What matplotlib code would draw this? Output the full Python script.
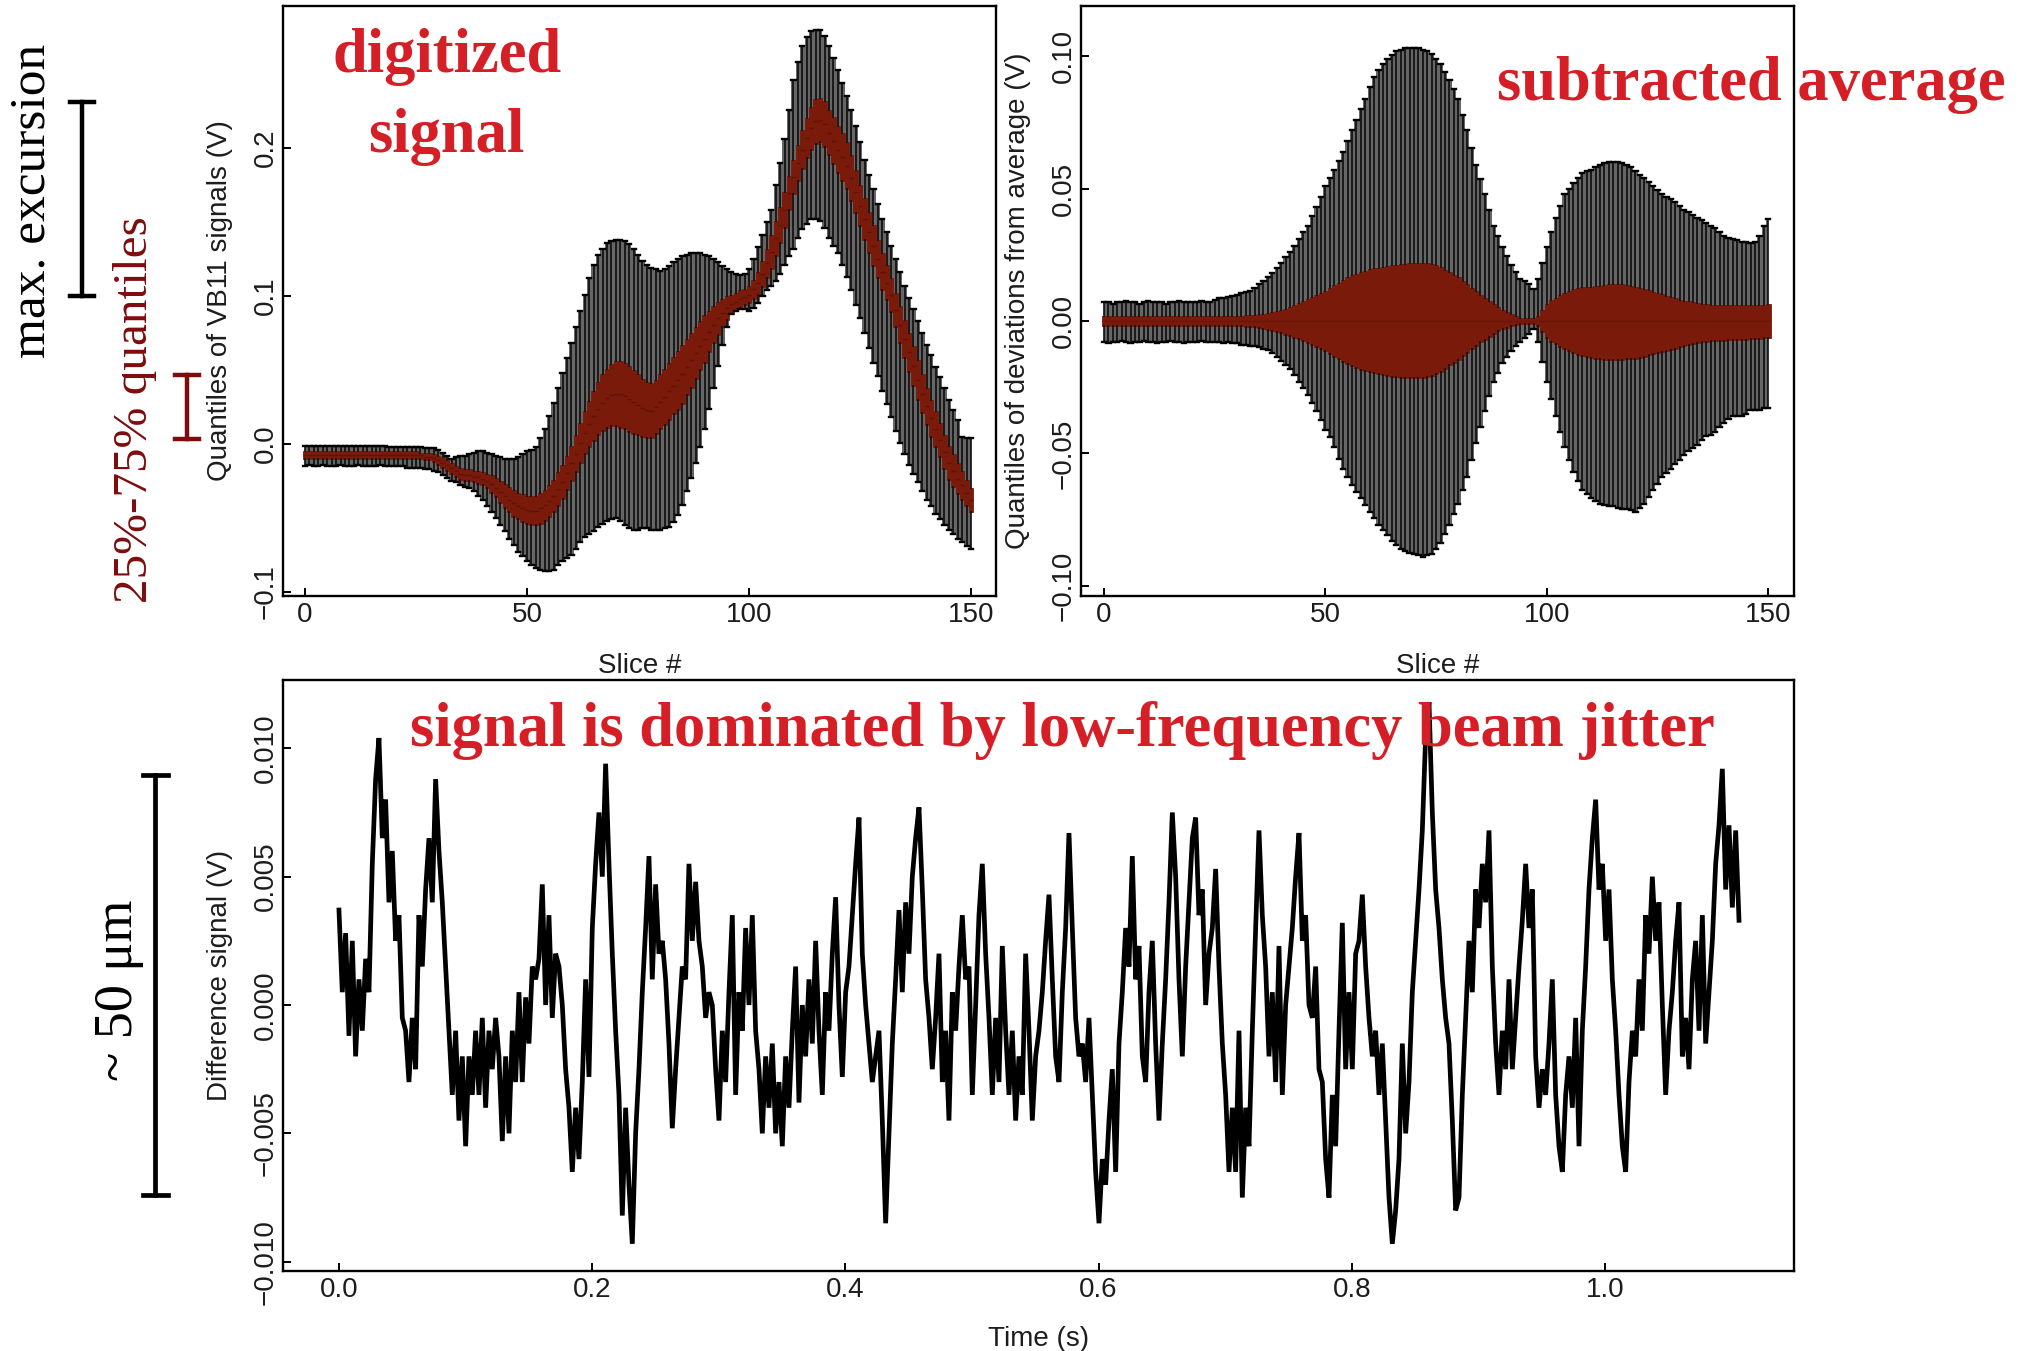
import numpy as np
import matplotlib
matplotlib.use("Agg")
import matplotlib.pyplot as plt
from matplotlib.lines import Line2D

# ---- digitized signal: per-slice quantiles of VB11 signals (V) ----
slices = np.arange(0, 151)

sig_hi = [
    -0.001, -0.001, -0.001, -0.001, -0.001, -0.001, -0.001, -0.001, -0.001, -0.001,
    -0.001, -0.001, -0.001, -0.001, -0.001, -0.001, -0.001, -0.001, -0.001, -0.002,
    -0.002, -0.002, -0.002, -0.002, -0.002, -0.002, -0.002, -0.003, -0.003, -0.003,
    -0.004, -0.006, -0.008, -0.010, -0.009, -0.008, -0.008, -0.007, -0.006, -0.005,
    -0.005, -0.006, -0.007, -0.008, -0.009, -0.010, -0.010, -0.010, -0.009, -0.007,
    -0.005, -0.004, -0.002, 0.004, 0.010, 0.019, 0.028, 0.038, 0.048, 0.058,
    0.068, 0.079, 0.090, 0.101, 0.112, 0.121, 0.128, 0.132, 0.136, 0.137,
    0.138, 0.138, 0.137, 0.135, 0.132, 0.128, 0.124, 0.121, 0.119, 0.118,
    0.117, 0.118, 0.120, 0.123, 0.125, 0.127, 0.128, 0.129, 0.129, 0.129,
    0.128, 0.127, 0.125, 0.123, 0.120, 0.118, 0.116, 0.115, 0.114, 0.115,
    0.118, 0.125, 0.133, 0.141, 0.150, 0.158, 0.175, 0.190, 0.206, 0.226,
    0.246, 0.258, 0.269, 0.275, 0.279, 0.280, 0.280, 0.276, 0.269, 0.261,
    0.253, 0.244, 0.235, 0.226, 0.215, 0.204, 0.192, 0.182, 0.172, 0.162,
    0.152, 0.143, 0.134, 0.125, 0.116, 0.107, 0.099, 0.091, 0.083, 0.075,
    0.067, 0.060, 0.052, 0.045, 0.038, 0.030, 0.023, 0.016, 0.005, 0.004,
    0.004,
]
sig_q3 = [
    -0.005, -0.005, -0.005, -0.005, -0.005, -0.005, -0.005, -0.005, -0.005, -0.005,
    -0.005, -0.005, -0.005, -0.005, -0.005, -0.005, -0.005, -0.005, -0.005, -0.005,
    -0.005, -0.005, -0.005, -0.005, -0.005, -0.005, -0.006, -0.006, -0.006, -0.007,
    -0.008, -0.009, -0.011, -0.013, -0.015, -0.016, -0.017, -0.017, -0.018, -0.018,
    -0.019, -0.020, -0.021, -0.023, -0.025, -0.027, -0.029, -0.031, -0.033, -0.034,
    -0.035, -0.035, -0.035, -0.033, -0.031, -0.028, -0.024, -0.019, -0.014, -0.008,
    -0.001, 0.006, 0.014, 0.022, 0.029, 0.036, 0.042, 0.047, 0.051, 0.054,
    0.056, 0.056, 0.055, 0.053, 0.050, 0.047, 0.044, 0.042, 0.041, 0.043,
    0.047, 0.051, 0.055, 0.059, 0.063, 0.067, 0.071, 0.075, 0.079, 0.083,
    0.087, 0.090, 0.093, 0.096, 0.098, 0.100, 0.101, 0.102, 0.104, 0.105,
    0.107, 0.111, 0.116, 0.124, 0.132, 0.141, 0.151, 0.160, 0.170, 0.181,
    0.192, 0.202, 0.212, 0.220, 0.228, 0.233, 0.234, 0.232, 0.226, 0.221,
    0.215, 0.210, 0.204, 0.195, 0.185, 0.175, 0.166, 0.157, 0.148, 0.138,
    0.129, 0.121, 0.112, 0.102, 0.093, 0.084, 0.075, 0.066, 0.057, 0.047,
    0.038, 0.030, 0.022, 0.014, 0.006, -0.001, -0.007, -0.013, -0.018, -0.024,
    -0.030,
]
sig_med = [
    -0.0075, -0.0075, -0.0075, -0.0075, -0.0075, -0.0075, -0.0075, -0.0075, -0.0075, -0.0075,
    -0.0075, -0.0075, -0.0075, -0.0075, -0.0075, -0.0075, -0.0075, -0.0075, -0.0075, -0.0075,
    -0.0075, -0.0075, -0.0075, -0.0075, -0.0075, -0.0075, -0.0075, -0.0085, -0.0085, -0.0095,
    -0.011, -0.0125, -0.0145, -0.0165, -0.0185, -0.020, -0.021, -0.021, -0.022, -0.0225,
    -0.0235, -0.025, -0.027, -0.0295, -0.0325, -0.035, -0.0375, -0.040, -0.042, -0.0435,
    -0.0445, -0.045, -0.045, -0.0435, -0.0415, -0.0385, -0.035, -0.0305, -0.0255, -0.0195,
    -0.013, -0.0065, 0.0005, 0.0075, 0.0135, 0.019, 0.024, 0.028, 0.031, 0.033,
    0.034, 0.0335, 0.0325, 0.0305, 0.0285, 0.0265, 0.0245, 0.023, 0.0225, 0.025,
    0.0285, 0.032, 0.0355, 0.0395, 0.043, 0.047, 0.052, 0.0565, 0.0615, 0.0665,
    0.071, 0.076, 0.0805, 0.085, 0.0885, 0.092, 0.0945, 0.096, 0.098, 0.0995,
    0.101, 0.1045, 0.1085, 0.115, 0.122, 0.1295, 0.139, 0.148, 0.158, 0.1695,
    0.1805, 0.190, 0.199, 0.2065, 0.2135, 0.218, 0.219, 0.2165, 0.2105, 0.205,
    0.199, 0.194, 0.188, 0.1795, 0.1705, 0.161, 0.152, 0.143, 0.134, 0.125,
    0.1165, 0.109, 0.1005, 0.0905, 0.0805, 0.071, 0.062, 0.0525, 0.0435, 0.034,
    0.0255, 0.0175, 0.010, 0.0025, -0.0055, -0.0125, -0.018, -0.0235, -0.028, -0.033,
    -0.038,
]
sig_q1 = [
    -0.010, -0.010, -0.010, -0.010, -0.010, -0.010, -0.010, -0.010, -0.010, -0.010,
    -0.010, -0.010, -0.010, -0.010, -0.010, -0.010, -0.010, -0.010, -0.010, -0.010,
    -0.010, -0.010, -0.010, -0.010, -0.010, -0.010, -0.010, -0.011, -0.011, -0.012,
    -0.014, -0.016, -0.018, -0.020, -0.022, -0.024, -0.025, -0.025, -0.026, -0.027,
    -0.028, -0.030, -0.033, -0.036, -0.040, -0.043, -0.046, -0.049, -0.051, -0.053,
    -0.054, -0.055, -0.055, -0.054, -0.052, -0.049, -0.046, -0.042, -0.037, -0.031,
    -0.025, -0.019, -0.013, -0.007, -0.002, 0.002, 0.006, 0.009, 0.011, 0.012,
    0.012, 0.011, 0.010, 0.008, 0.007, 0.006, 0.005, 0.004, 0.004, 0.007,
    0.010, 0.013, 0.016, 0.020, 0.023, 0.027, 0.033, 0.038, 0.044, 0.050,
    0.055, 0.062, 0.068, 0.074, 0.079, 0.084, 0.088, 0.090, 0.092, 0.094,
    0.095, 0.098, 0.101, 0.106, 0.112, 0.118, 0.127, 0.136, 0.146, 0.158,
    0.169, 0.178, 0.186, 0.193, 0.199, 0.203, 0.204, 0.201, 0.195, 0.189,
    0.183, 0.178, 0.172, 0.164, 0.156, 0.147, 0.138, 0.129, 0.120, 0.112,
    0.104, 0.097, 0.089, 0.079, 0.068, 0.058, 0.049, 0.039, 0.030, 0.021,
    0.013, 0.005, -0.002, -0.009, -0.017, -0.024, -0.029, -0.034, -0.038, -0.042,
    -0.046,
]
sig_lo = [
    -0.015, -0.014, -0.015, -0.015, -0.014, -0.015, -0.015, -0.015, -0.014, -0.015,
    -0.015, -0.015, -0.014, -0.015, -0.015, -0.015, -0.015, -0.014, -0.015, -0.015,
    -0.015, -0.015, -0.015, -0.016, -0.016, -0.016, -0.016, -0.017, -0.017, -0.018,
    -0.019, -0.021, -0.023, -0.025, -0.026, -0.028, -0.029, -0.030, -0.032, -0.035,
    -0.038, -0.042, -0.046, -0.050, -0.055, -0.059, -0.064, -0.068, -0.073, -0.076,
    -0.079, -0.082, -0.084, -0.085, -0.086, -0.086, -0.085, -0.082, -0.079, -0.077,
    -0.075, -0.071, -0.066, -0.063, -0.061, -0.059, -0.056, -0.054, -0.052, -0.051,
    -0.050, -0.052, -0.055, -0.057, -0.058, -0.058, -0.057, -0.057, -0.058, -0.058,
    -0.058, -0.057, -0.056, -0.053, -0.048, -0.041, -0.032, -0.023, -0.013, -0.002,
    0.010, 0.024, 0.038, 0.053, 0.067, 0.079, 0.088, 0.090, 0.091, 0.091,
    0.090, 0.092, 0.095, 0.100, 0.104, 0.107, 0.110, 0.115, 0.121, 0.127,
    0.132, 0.139, 0.145, 0.149, 0.152, 0.152, 0.151, 0.146, 0.139, 0.134,
    0.129, 0.121, 0.113, 0.104, 0.094, 0.085, 0.075, 0.065, 0.055, 0.046,
    0.036, 0.027, 0.018, 0.009, 0.001, -0.007, -0.014, -0.020, -0.026, -0.032,
    -0.038, -0.042, -0.047, -0.051, -0.055, -0.058, -0.061, -0.064, -0.066, -0.069,
    -0.071,
]

# ---- deviations from the average, per slice (V) ----
dev_hi = [
    0.007, 0.007, 0.0065, 0.007, 0.007, 0.0075, 0.007, 0.007, 0.0065, 0.007,
    0.0075, 0.007, 0.007, 0.007, 0.0065, 0.007, 0.007, 0.0075, 0.007, 0.007,
    0.007, 0.007, 0.0075, 0.007, 0.007, 0.008, 0.0085, 0.0085, 0.009, 0.0095,
    0.010, 0.0105, 0.011, 0.0115, 0.0125, 0.014, 0.015, 0.0165, 0.018, 0.020,
    0.022, 0.024, 0.026, 0.0285, 0.031, 0.0335, 0.036, 0.0395, 0.043, 0.047,
    0.051, 0.054, 0.057, 0.0605, 0.064, 0.068, 0.072, 0.076, 0.080, 0.084,
    0.0885, 0.092, 0.095, 0.097, 0.099, 0.1005, 0.102, 0.1025, 0.103, 0.103,
    0.103, 0.103, 0.1025, 0.102, 0.101, 0.099, 0.097, 0.094, 0.091, 0.0875,
    0.084, 0.078, 0.072, 0.0655, 0.059, 0.0535, 0.048, 0.042, 0.036, 0.032,
    0.028, 0.0245, 0.021, 0.0185, 0.016, 0.015, 0.014, 0.012, 0.016, 0.022,
    0.028, 0.0335, 0.039, 0.0435, 0.048, 0.050, 0.052, 0.054, 0.056, 0.0565,
    0.057, 0.058, 0.059, 0.0595, 0.060, 0.060, 0.060, 0.0595, 0.059, 0.058,
    0.0565, 0.055, 0.054, 0.0525, 0.051, 0.0495, 0.048, 0.047, 0.046, 0.045,
    0.0435, 0.042, 0.041, 0.040, 0.039, 0.038, 0.037, 0.036, 0.035, 0.0335,
    0.032, 0.0315, 0.031, 0.0305, 0.030, 0.030, 0.0295, 0.030, 0.032, 0.036,
    0.0385,
]
dev_q3 = [0.002] * 30 + [
    0.002, 0.002, 0.0022, 0.0023, 0.0024, 0.0025, 0.0027, 0.003, 0.0033, 0.0036,
    0.004, 0.0046, 0.0053, 0.006, 0.0068, 0.0075, 0.0083, 0.0091, 0.0099, 0.0107,
    0.0115, 0.0125, 0.0135, 0.0145, 0.0155, 0.0165, 0.0172, 0.0179, 0.0185, 0.019,
    0.0195, 0.0199, 0.0202, 0.0205, 0.0208, 0.021, 0.0213, 0.0215, 0.0217, 0.0219,
    0.022, 0.022, 0.022, 0.022, 0.0215, 0.021, 0.0203, 0.0194, 0.0184, 0.0175,
    0.0165, 0.0152, 0.0139, 0.0126, 0.0113, 0.010, 0.0088, 0.0076, 0.0064, 0.0052,
    0.004, 0.0033, 0.0025, 0.0018, 0.0013, 0.001, 0.001, 0.001, 0.002, 0.004,
    0.0066, 0.0078, 0.0088, 0.0098, 0.0107, 0.0115, 0.012, 0.0124, 0.0127, 0.0129,
    0.013, 0.0132, 0.0134, 0.0136, 0.0138, 0.014, 0.014, 0.0138, 0.0135, 0.0133,
    0.013, 0.0125, 0.012, 0.0116, 0.0111, 0.0107, 0.0102, 0.0096, 0.009, 0.0085,
    0.008, 0.0077, 0.0074, 0.0071, 0.0068, 0.0066, 0.0064, 0.0062, 0.0061, 0.006,
    0.006, 0.006, 0.006, 0.006, 0.006, 0.006, 0.006, 0.006, 0.006, 0.006,
    0.0065,
]
dev_med = [0.0] * 151
dev_q1 = [-0.002] * 30 + [
    -0.002, -0.002, -0.0022, -0.0023, -0.0024, -0.0026, -0.003, -0.0034, -0.0038, -0.0042,
    -0.0046, -0.0052, -0.0058, -0.0063, -0.0068, -0.0074, -0.0082, -0.009, -0.0098, -0.0106,
    -0.0115, -0.0125, -0.0135, -0.0145, -0.0155, -0.0164, -0.0171, -0.0178, -0.0184, -0.0189,
    -0.0193, -0.0197, -0.020, -0.0204, -0.0207, -0.021, -0.0212, -0.0214, -0.0215, -0.0216,
    -0.0216, -0.0216, -0.0214, -0.0211, -0.0207, -0.020, -0.0191, -0.018, -0.0168, -0.0158,
    -0.0148, -0.0134, -0.0121, -0.0107, -0.0093, -0.008, -0.007, -0.006, -0.0048, -0.0038,
    -0.003, -0.0025, -0.002, -0.0015, -0.0012, -0.001, -0.001, -0.001, -0.002, -0.004,
    -0.0066, -0.0078, -0.0088, -0.0098, -0.0107, -0.0115, -0.012, -0.0127, -0.0133, -0.0137,
    -0.014, -0.0143, -0.0145, -0.0147, -0.0148, -0.0148, -0.0147, -0.0146, -0.0145, -0.0144,
    -0.0144, -0.014, -0.0135, -0.013, -0.0125, -0.012, -0.0116, -0.0112, -0.0108, -0.0104,
    -0.010, -0.0096, -0.0092, -0.0088, -0.0084, -0.008, -0.0078, -0.0077, -0.0076, -0.0075,
    -0.0074, -0.0073, -0.0072, -0.0071, -0.007, -0.007, -0.0069, -0.0068, -0.0067, -0.0066,
    -0.0066,
]
dev_lo = [
    -0.008, -0.0085, -0.008, -0.008, -0.0075, -0.008, -0.0085, -0.008, -0.008, -0.0075,
    -0.008, -0.008, -0.0085, -0.008, -0.008, -0.0075, -0.008, -0.008, -0.0085, -0.008,
    -0.008, -0.008, -0.0075, -0.008, -0.008, -0.008, -0.008, -0.0085, -0.008, -0.0085,
    -0.0085, -0.009, -0.009, -0.0095, -0.0095, -0.010, -0.0105, -0.011, -0.012, -0.0135,
    -0.015, -0.0165, -0.018, -0.0205, -0.023, -0.0255, -0.028, -0.031, -0.034, -0.0375,
    -0.041, -0.044, -0.0475, -0.052, -0.056, -0.059, -0.062, -0.0645, -0.067, -0.0695,
    -0.072, -0.0745, -0.077, -0.079, -0.081, -0.083, -0.0845, -0.086, -0.087, -0.0875,
    -0.088, -0.0885, -0.089, -0.0885, -0.088, -0.086, -0.084, -0.0805, -0.077, -0.073,
    -0.069, -0.064, -0.059, -0.0525, -0.046, -0.040, -0.034, -0.0285, -0.023, -0.0195,
    -0.016, -0.0135, -0.0115, -0.0095, -0.008, -0.0065, -0.005, -0.003, -0.008, -0.0155,
    -0.023, -0.0295, -0.036, -0.042, -0.0475, -0.0525, -0.057, -0.0605, -0.064, -0.0655,
    -0.067, -0.068, -0.069, -0.0695, -0.070, -0.070, -0.0705, -0.071, -0.071, -0.0715,
    -0.072, -0.0705, -0.069, -0.0665, -0.064, -0.0615, -0.059, -0.0575, -0.056, -0.054,
    -0.0525, -0.0505, -0.049, -0.048, -0.047, -0.045, -0.0435, -0.043, -0.042, -0.040,
    -0.0385, -0.037, -0.036, -0.036, -0.036, -0.035, -0.0335, -0.0335, -0.0335, -0.033,
    -0.033,
]

# ---- difference signal vs time (mV), one sample every sample_dt seconds ----
sample_dt = 0.002633
diff_mv = [
    3.7, 0.5, 2.8, -1.2, 2.5, -2.0, 1.0, -1.0, 1.8, 0.5,
    5.5, 8.8, 10.4, 6.5, 8.0, 4.0, 6.0, 2.5, 3.5, -0.5,
    -1.0, -3.0, -0.5, -2.5, 3.5, 1.5, 4.5, 6.5, 4.0, 8.8,
    6.0, 4.0, 1.5, -1.0, -3.5, -1.0, -4.5, -2.0, -5.5, -2.0,
    -3.5, -1.0, -3.5, -0.5, -4.0, -1.0, -2.5, -0.5, -2.0, -5.3,
    -2.0, -5.0, -1.0, -3.0, 0.5, -3.0, 0.3, -1.5, 1.5, 1.0,
    1.8, 4.7, 0.0, 3.5, -0.5, 2.0, 1.5, 0.0, -2.5, -4.0,
    -6.5, -4.0, -6.0, -3.0, 1.0, -2.8, 3.0, 5.5, 7.5, 5.0,
    9.4, 5.5, 2.0, -1.0, -3.5, -8.2, -4.0, -7.0, -9.3, -5.0,
    -2.5, 0.5, 3.0, 5.8, 1.0, 4.7, 2.0, 2.5, 1.0, -1.5,
    -4.8, -2.5, -0.5, 1.5, 1.0, 5.5, 2.5, 4.8, 2.5, 1.5,
    -0.5, 0.5,
    0.0, -2.5, -4.5, -1.0, -3.0, 0.5, 3.5, -3.5, 0.5, -1.0,
    3.0, 0.0, 3.5, -1.0, -2.5, -5.0, -2.0, -4.0, -1.5, -5.0,
    -3.0, -5.5, -2.0, -4.0, -1.0, 1.5, -3.8, 0.0, -2.0, 1.0,
    -1.5, 2.5, -1.0, -3.5, 0.5, -1.0, 2.0, 4.2, 0.0, -2.8,
    0.5, 1.5, 3.5, 5.5, 7.3, 2.0, 0.0, -1.5, -3.0, -2.0,
    -1.0, -4.5, -8.5, -5.0, -1.5, 1.0, 3.7, 0.5, 4.0, 2.0,
    5.0, 6.5, 7.7, 4.5, 1.0, -0.5, -2.5, -0.5, 2.0, -3.0,
    -1.0, -4.5, 0.5, -1.0, 1.5, 3.5, 1.0, 1.5, -3.5, 0.0,
    3.5, 5.5, 2.0, -0.5, -3.5, -0.5, -3.0, 2.3, -1.0, -3.5,
    -1.0, -4.5, -2.0, -3.5, 2.0, -1.0, -4.5, -2.0, -1.0, 0.5,
    2.5, 4.3, 1.0, -2.0, -3.0, 0.5, 3.0, 6.7, 3.0, -0.5,
    -2.0,
    -1.5, -3.0, -0.5, -3.5, -6.5, -8.5, -6.0, -7.0, -4.5, -2.5,
    -6.5, -1.5, 0.5, 3.0, 1.5, 5.8, 1.0, 2.3, -2.0, -3.0,
    0.5, 2.5, -1.5, -4.5, -1.5, 1.0, 4.0, 7.5, 5.0, 1.0,
    -2.0, 1.5, 4.0, 6.5, 7.3, 3.5, 4.5, 0.0, 2.0, 3.0,
    5.3, 1.5, -1.5, -3.5, -6.5, -4.0, -6.5, -1.0, -7.5, -4.0,
    -5.5, -1.0, 3.0, 6.8, 3.5, 1.5, -2.0, 0.5, -3.0, 2.3,
    -3.5, 0.0, 1.5, 3.0, 5.0, 6.7, 2.5, 3.5, 0.0, -0.5,
    1.5, -2.5, -3.0, -6.0, -7.5, -3.5, -5.5, -1.0, 3.2, -2.5,
    0.5, -2.5, 2.0, 2.5, 4.3, 1.5, -0.5, -2.0, -1.0, -3.5,
    -1.5, -4.5, -7.5, -9.3, -8.0, -6.0, -1.5, -5.0, -3.0, 0.5,
    2.5, 4.5, 6.8, 10.5, 11.8, 7.5, 4.5, 3.0, 1.0, -0.5,
    -1.5,
    -4.5, -8.0, -7.5, -3.5, -0.5, 2.5, 0.5, 4.5, 3.0, 5.5,
    4.0, 6.8, 1.5, -1.5, -3.5, -1.0, -2.5, 1.0, -2.5, -0.5,
    1.5, 3.3, 5.5, 3.0, 4.5, -2.0, -4.0, -2.5, -3.5, -1.5,
    1.0, -3.5, -5.5, -6.5, -3.5, -2.0, -4.0, -0.5, -5.5, -1.0,
    1.5, 4.5, 6.5, 8.0, 4.5, 5.5, 2.5, 4.5, 1.0, -1.0,
    -3.5, -5.5, -6.5, -3.0, -1.0, -2.0, 1.0, -1.0, 3.5, 2.0,
    5.0, 2.5, 4.0, 0.0, -3.5, -1.0, 0.5, 2.5, 4.0, -2.0,
    -0.5, -2.5, 1.0, 2.5, -1.0, 3.5, -1.5, 0.5, 2.5, 5.5,
    7.0, 9.2, 4.5, 7.0, 3.8, 6.8, 3.3,
]

BOX_RED = "#7a1a0a"
ANNOT_RED = "#d51e26"
DARK_RED = "#7f0c0c"
TICK_FONT = "Liberation Sans"
SERIF = "Liberation Serif"

W, H = 2020, 1351
fig = plt.figure(figsize=(W / 100, H / 100), dpi=100)


def box(x0, y0, x1, y1):
    # pixel box (top-left origin) -> figure fraction rect
    return [x0 / W, 1 - y1 / H, (x1 - x0) / W, (y1 - y0) / H]


def fx(x):
    return x / W


def fy(y):
    return 1 - y / H


def style(ax):
    for s in ax.spines.values():
        s.set_linewidth(1.7)
        s.set_color("black")
    ax.tick_params(direction="in", length=6, width=1.4, labelsize=20,
                   labelcolor="#1c1c1c", color="black")
    ax.tick_params(axis="x", pad=4)
    ax.tick_params(axis="y", pad=3, labelrotation=90)
    for lab in ax.get_xticklabels() + ax.get_yticklabels():
        lab.set_fontfamily(TICK_FONT)
    for lab in ax.get_yticklabels():
        lab.set_va("center")


def quantile_boxes(ax, lo, q1, med, q3, hi, med_color):
    stats = [dict(whislo=a, q1=b, med=c, q3=d, whishi=e)
             for a, b, c, d, e in zip(lo, q1, med, q3, hi)]
    ax.fill_between(slices, lo, hi, step="mid", color="#666666", lw=0, zorder=1)
    ax.bxp(stats, positions=slices, widths=1.0, capwidths=0.95,
           patch_artist=True, showfliers=False, manage_ticks=False,
           boxprops=dict(facecolor=BOX_RED, edgecolor=BOX_RED, linewidth=0.6),
           whiskerprops=dict(color="#0c0c0c", linewidth=1.2),
           capprops=dict(color="black", linewidth=1.7),
           medianprops=dict(color=med_color, linewidth=1.0))


label_kw = dict(fontsize=20, fontfamily=TICK_FONT, color="#1c1c1c")

# top left: digitized signal
ax1 = fig.add_axes(box(283, 6, 996, 596))
quantile_boxes(ax1, sig_lo, sig_q1, sig_med, sig_q3, sig_hi, "#601208")
ax1.set_xlim(-4.95, 155.6)
ax1.set_ylim(-0.1027, 0.296)
ax1.set_xticks([0, 50, 100, 150])
ax1.set_yticks([-0.1, 0.0, 0.1, 0.2])
ax1.set_yticklabels(["\u22120.1", "0.0", "0.1", "0.2"])
ax1.set_xlabel("Slice #", labelpad=18, **label_kw)
ax1.set_ylabel("Quantiles of VB11 signals (V)", labelpad=14, **label_kw)
style(ax1)

# top right: deviations from the average
ax2 = fig.add_axes(box(1081, 6, 1794, 596))
quantile_boxes(ax2, dev_lo, dev_q1, dev_med, dev_q3, dev_hi, "#6a160a")
ax2.set_xlim(-5.2, 155.8)
ax2.set_ylim(-0.1039, 0.119)
ax2.set_xticks([0, 50, 100, 150])
ax2.set_yticks([-0.10, -0.05, 0.0, 0.05, 0.10])
ax2.set_yticklabels(["\u22120.10", "\u22120.05", "0.00", "0.05", "0.10"])
ax2.set_xlabel("Slice #", labelpad=18, **label_kw)
ax2.set_ylabel("Quantiles of deviations from average (V)", labelpad=14, **label_kw)
style(ax2)

# bottom: difference signal
ax3 = fig.add_axes(box(283, 680, 1794, 1271))
t = np.arange(len(diff_mv)) * sample_dt
ax3.plot(t, np.array(diff_mv) * 1e-3, color="black", lw=3.4, solid_joinstyle="miter")
ax3.set_xlim(-0.0442, 1.1493)
ax3.set_ylim(-0.01036, 0.01266)
ax3.set_xticks([0.0, 0.2, 0.4, 0.6, 0.8, 1.0])
ax3.set_xticklabels(["0.0", "0.2", "0.4", "0.6", "0.8", "1.0"])
ax3.set_yticks([-0.010, -0.005, 0.0, 0.005, 0.010])
ax3.set_yticklabels(["\u22120.010", "\u22120.005", "0.000", "0.005", "0.010"])
ax3.set_xlabel("Time (s)", labelpad=17, **label_kw)
ax3.set_ylabel("Difference signal (V)", labelpad=14, **label_kw)
style(ax3)

# red annotations
red_kw = dict(fontfamily=SERIF, fontweight="bold", fontsize=45, color=ANNOT_RED,
              ha="center", va="baseline")
fig.text(fx(447), fy(72), "digitized", **red_kw)
fig.text(fx(446), fy(152), "signal", **red_kw)
fig.text(fx(1751), fy(100), "subtracted average", **red_kw)
fig.text(fx(1062), fy(746), "signal is dominated by low-frequency beam jitter", **red_kw)

# side legends
rot_kw = dict(fontfamily=SERIF, rotation=90, rotation_mode="anchor",
              ha="center", va="baseline")
fig.text(fx(45), fy(201), "max. excursion", fontsize=37, color="black", **rot_kw)
fig.text(fx(147), fy(410), "25%-75% quantiles", fontsize=35.5, color=DARK_RED, **rot_kw)
fig.text(fx(132), fy(990), "~ 50 \u03bcm", fontsize=39, color="black", **rot_kw)


def ibeam(x, y0, y1, half, color, lw):
    fig.add_artist(Line2D([fx(x), fx(x)], [fy(y0), fy(y1)], color=color, lw=lw))
    for y in (y0, y1):
        fig.add_artist(Line2D([fx(x - half), fx(x + half)], [fy(y), fy(y)],
                              color=color, lw=lw))


ibeam(82, 102, 296, 12, "black", 3.2)
ibeam(187, 375, 439, 12, DARK_RED, 3.2)
ibeam(155, 775, 1195, 12.5, "black", 3.4)

fig.savefig("out.png", dpi=100, facecolor="white")
